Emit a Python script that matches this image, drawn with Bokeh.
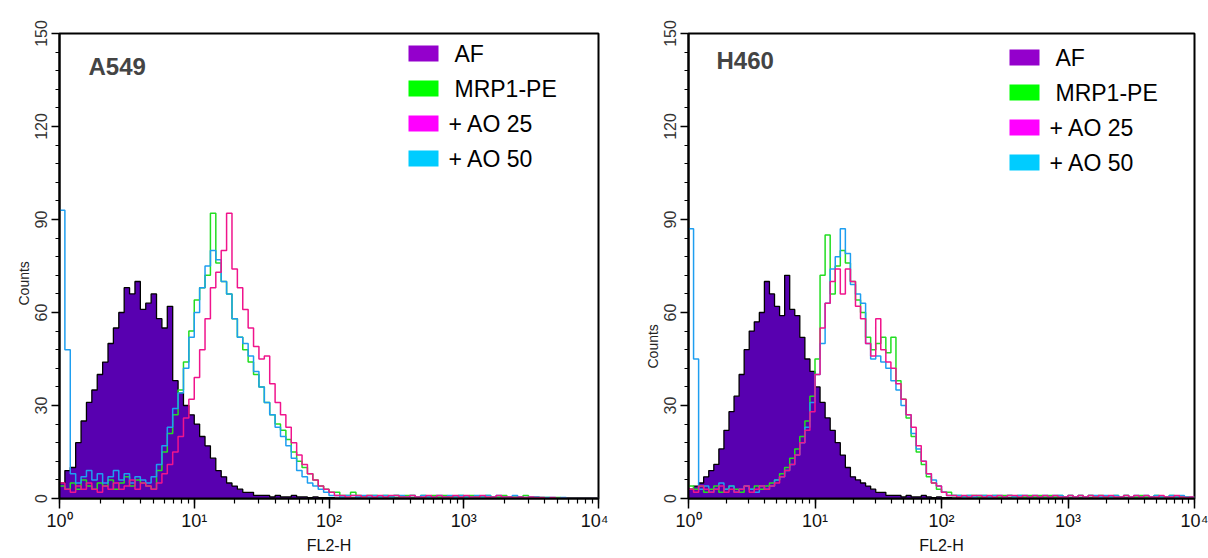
import math
from bokeh.plotting import figure
from bokeh.models import (Range1d, SingleIntervalTicker, LogTicker, Label,
                          BoxAnnotation, Title)
from bokeh.layouts import row
from bokeh.embed import file_html
from bokeh.resources import INLINE

# ---------------- data ----------------
series_names = ["AF", "MRP1-PE", "+ AO 25", "+ AO 50"]
legend_colors = ["#9400CC", "#00FF00", "#FF00FF", "#00CCFF"]
af_fill = "#5800B0"
line_colors = ["#22DD22", "#F0148C", "#1E9EF0"]   # MRP1-PE, +AO 25, +AO 50
panel_titles = ["A549", "H460"]
x_tick_values = [1, 10, 100, 1000, 10000]
x_tick_labels = ["10⁰", "10¹", "10²", "10³", "10⁴"]
y_major_step = 30
channels_per_decade = 25          # channel k covers 10**(k/25) .. 10**((k+1)/25)

a549_af = [5, 9, 10, 18, 25, 31, 35, 40, 44, 50,
           55, 60, 68, 66, 70, 61, 63, 66, 58, 55,
           62, 38, 34, 30, 27, 24, 20, 17, 13, 9,
           7, 5, 4, 3, 2, 2, 1, 1, 1, 0.5,
           1, 0.5, 0.5, 1, 0.5, 0.5, 0.3, 0.5, 0.3, 0.3,
           0.3, 0, 0.3, 0, 0, 0.3, 0, 0, 0, 0,
           0, 0, 0, 0, 0, 0, 0, 0, 0, 0,
           0, 0, 0, 0, 0, 0, 0, 0, 0, 0,
           0, 0, 0, 0, 0, 0, 0, 0, 0, 0,
           0, 0, 0, 0, 0, 0, 0, 0, 0, 0]
a549_mrp1 = [4, 3, 5, 3, 6, 4, 3, 5, 4, 6,
             3, 5, 7, 4, 6, 5, 4, 3, 9, 15,
             21, 27, 35, 44, 54, 64, 68, 72, 92, 76,
             70, 66, 58, 52, 48, 44, 40, 36, 31, 27,
             24, 22, 19, 15, 12, 10, 8, 6, 4, 3,
             2, 2, 1, 1, 2, 1, 0.5, 1, 1, 0.5,
             1, 0.5, 1, 0.5, 1, 1, 0.5, 1, 0.5, 1,
             0.5, 1, 0.5, 0.5, 1, 0.5, 1, 0.5, 0.5, 1,
             0.5, 0.5, 1, 0.5, 0.5, 0.5, 1, 0.3, 0.5, 0.3,
             0.3, 0, 0.3, 0, 0, 0, 0, 0, 0, 0]
a549_ao25 = [5, 3, 2, 4, 3, 5, 3, 2, 4, 3,
             5, 3, 4, 6, 3, 5, 4, 3, 5, 8,
             11, 15, 20, 26, 32, 39, 48, 58, 68, 73,
             80, 92, 74, 68, 61, 55, 49, 45, 46, 37,
             31, 27, 23, 18, 14, 11, 8, 6, 4, 3,
             2, 1, 1, 0.5, 1, 1, 0.5, 1, 0.5, 1,
             0.5, 1, 1, 0.5, 0.5, 1, 0.5, 0.5, 1, 0.5,
             1, 0.5, 0.5, 1, 0.5, 1, 0.5, 0.5, 1, 0.5,
             0.5, 1, 0.5, 0.5, 0.3, 0.5, 0.3, 0.5, 0.3, 0.3,
             0, 0.3, 0, 0, 0, 0, 0, 0, 0, 0]
a549_ao50 = [93, 48, 8, 5, 7, 9, 6, 8, 5, 7,
             9, 6, 8, 5, 7, 6, 5, 7, 11, 17,
             23, 29, 34, 42, 52, 60, 68, 75, 80, 77,
             70, 66, 58, 52, 50, 46, 41, 36, 31, 27,
             23, 20, 17, 13, 9, 7, 5, 4, 3, 2,
             1, 1, 0.5, 1, 1, 0.5, 1, 0.5, 1, 0.5,
             1, 0.5, 1, 1, 0.5, 1, 0.5, 1, 0.5, 0.5,
             1, 0.5, 1, 0.5, 1, 0.5, 0.5, 1, 0.5, 1,
             0.5, 1, 0.5, 0.5, 1, 0.5, 0.3, 0.5, 0.5, 0.3,
             0.3, 0.3, 0, 0.3, 0, 0, 0, 0, 0, 0]

h460_af = [3, 4, 5, 7, 9, 11, 16, 22, 28, 33,
           40, 48, 54, 57, 60, 70, 66, 62, 59, 72,
           61, 59, 52, 45, 41, 36, 31, 26, 22, 18,
           14, 10, 7, 6, 5, 4, 3, 2, 2, 1,
           1, 1, 0.5, 1, 0.5, 0.5, 1, 0.5, 0.3, 0.5,
           0.3, 0.3, 0, 0.3, 0, 0, 0, 0, 0, 0,
           0, 0, 0, 0, 0, 0, 0, 0, 0, 0,
           0, 0, 0, 0, 0, 0, 0, 0, 0, 0,
           0, 0, 0, 0, 0, 0, 0, 0, 0, 0,
           0, 0, 0, 0, 0, 0, 0, 0, 0, 0]
h460_mrp1 = [4, 3, 4, 2, 3, 4, 2, 3, 4, 3,
             2, 4, 3, 4, 3, 4, 5, 6, 8, 10,
             13, 16, 20, 25, 33, 45, 72, 85, 66, 75,
             80, 76, 70, 64, 60, 52, 48, 50, 52, 47,
             52, 38, 32, 26, 20, 15, 11, 7, 5, 3,
             2, 2, 1, 1, 0.5, 1, 1, 0.5, 1, 0.5,
             1, 0.5, 1, 1, 0.5, 1, 0.5, 1, 0.5, 1,
             0.5, 1, 0.5, 1, 0.5, 1, 0.5, 1, 0.5, 1,
             0.5, 1, 0.5, 0.5, 1, 0.5, 1, 0.5, 0.5, 1,
             0.5, 0.5, 1, 0.5, 0.5, 1, 0.5, 0.5, 0.5, 0.3]
h460_ao25 = [3, 2, 4, 3, 2, 3, 4, 2, 3, 2,
             3, 4, 2, 3, 4, 3, 4, 5, 7, 9,
             11, 14, 18, 22, 28, 40, 55, 63, 70, 74,
             66, 74, 70, 62, 58, 50, 46, 58, 48, 44,
             42, 37, 32, 27, 23, 17, 12, 8, 5, 4,
             2, 1, 1, 0.5, 1, 0.5, 1, 1, 0.5, 1,
             0.5, 1, 0.5, 1, 1, 0.5, 1, 0.5, 1, 0.5,
             1, 0.5, 1, 0.5, 0.5, 1, 0.5, 1, 0.5, 1,
             0.5, 1, 0.5, 1, 0.5, 0.5, 1, 0.5, 1, 0.5,
             1, 0.5, 0.5, 1, 0.5, 0.5, 1, 0.5, 0.3, 0.5]
h460_ao50 = [87, 45, 3, 4, 2, 3, 5, 3, 4, 2,
             3, 4, 3, 2, 4, 3, 4, 6, 7, 9,
             11, 14, 18, 23, 31, 40, 50, 63, 74, 78,
             87, 79, 69, 66, 63, 50, 45, 46, 44, 42,
             38, 35, 30, 27, 21, 16, 12, 8, 6, 4,
             2, 1, 1, 1, 0.5, 1, 0.5, 1, 1, 0.5,
             1, 1, 0.5, 1, 0.5, 1, 1, 0.5, 1, 0.5,
             1, 0.5, 1, 1, 0.5, 1, 0.5, 1, 0.5, 1,
             1, 0.5, 1, 0.5, 1, 0.5, 1, 0.5, 1, 0.5,
             1, 0.5, 1, 0.5, 0.5, 1, 0.5, 1, 0.5, 0.5]

FONT = "Liberation Sans"


def channel_edges(n):
    return [10 ** (k / channels_per_decade) for k in range(n + 1)]


def step_xy(values):
    edges = channel_edges(len(values))
    xs, ys = [], []
    for k, v in enumerate(values):
        xs += [edges[k], edges[k + 1]]
        ys += [v, v]
    return xs, ys


def make_panel(title, af, mrp1, ao25, ao50, width, bl, br, bt, bb,
               title_pos, counts_offset, legend_x, legend_text_x, legend_row_y):
    p = figure(width=width, height=558, x_axis_type="log",
               x_range=Range1d(1, 10000), y_range=Range1d(0, 150),
               min_border_left=bl, min_border_right=br,
               min_border_top=bt, min_border_bottom=bb,
               output_backend="svg", toolbar_location=None)
    p.xgrid.visible = False
    p.ygrid.visible = False
    p.outline_line_color = "black"
    p.outline_line_width = 2
    p.background_fill_color = "white"
    p.border_fill_color = "white"

    # AF filled histogram (one continuous area + black outline)
    xs, ys = step_xy(af)
    p.varea(x=xs, y1=[0] * len(ys), y2=ys, fill_color=af_fill)
    p.line(xs, ys, line_color="black", line_width=1.3)
    for vals, col in zip([mrp1, ao50, ao25], [line_colors[0], line_colors[2], line_colors[1]]):
        xs, ys = step_xy(vals)
        p.line(xs, ys, line_color=col, line_width=1.5)

    # axes
    xa = p.xaxis[0]
    xa.ticker = LogTicker(num_minor_ticks=10, desired_num_ticks=5)
    xa.major_label_overrides = {v: t for v, t in zip(x_tick_values, x_tick_labels)}
    xa.major_label_text_font = FONT
    xa.major_label_text_font_size = "18px"
    xa.major_label_text_color = "#111111"
    xa.major_label_standoff = 2
    xa.axis_label = "FL2-H"
    xa.axis_label_text_font = FONT
    xa.axis_label_text_font_size = "16px"
    xa.axis_label_text_font_style = "normal"
    xa.axis_label_text_color = "#111111"
    xa.axis_label_standoff = 3
    ya = p.yaxis[0]
    ya.ticker = SingleIntervalTicker(interval=y_major_step, num_minor_ticks=5)
    ya.major_label_orientation = "vertical"
    ya.major_label_text_font = FONT
    ya.major_label_text_font_size = "16px"
    ya.major_label_text_color = "#333333"
    ya.major_label_standoff = 5
    for ax in (xa, ya):
        ax.axis_line_width = 2
        ax.axis_line_color = "black"
        ax.major_tick_line_color = "black"
        ax.minor_tick_line_color = "black"
        ax.major_tick_line_width = 1.5
        ax.minor_tick_line_width = 1.2
        ax.major_tick_in = 0
        ax.minor_tick_in = 0
    xa.major_tick_out = 10
    xa.minor_tick_out = 5
    ya.major_tick_out = 8
    ya.minor_tick_out = 4

    p.add_layout(Title(text="Counts", align="left", offset=counts_offset,
                       text_font=FONT, text_font_size="14px", text_font_style="normal",
                       text_color="#222222", standoff=0), "left")

    p.add_layout(Label(x=title_pos[0], y=title_pos[1], x_units="screen", y_units="screen",
                       text=title, text_font=FONT, text_font_size="24px",
                       text_font_style="bold", text_baseline="middle", text_align="left"))

    # legend: colour squares + labels
    for i, (name, col) in enumerate(zip(series_names, legend_colors)):
        cy = legend_row_y[i]
        p.add_layout(BoxAnnotation(left=legend_x, right=legend_x + 30,
                                   bottom=cy - 8, top=cy + 8,
                                   left_units="screen", right_units="screen",
                                   bottom_units="screen", top_units="screen",
                                   fill_color=col, fill_alpha=1, line_color=None,
                                   level="overlay"))
        tx = legend_text_x - (6 if name.startswith("+") else 0)
        p.add_layout(Label(x=tx, y=cy, x_units="screen", y_units="screen",
                           text=name, text_font=FONT, text_font_size="23px",
                           text_baseline="middle", text_align="left", text_color="black"))
    return p


p1 = make_panel(panel_titles[0], a549_af, a549_mrp1, a549_ao25, a549_ao50,
                width=608, bl=59, br=10, bt=33, bb=56,
                title_pos=(29, 432), counts_offset=193,
                legend_x=349, legend_text_x=395, legend_row_y=[445, 410, 375, 340])
p2 = make_panel(panel_titles[1], h460_af, h460_mrp1, h460_ao25, h460_ao50,
                width=600, bl=80, br=14, bt=28, bb=60,
                title_pos=(28, 438), counts_offset=130,
                legend_x=321, legend_text_x=367, legend_row_y=[441, 406, 371, 336])

layout = row(p1, p2)
open("out.html", "w").write(file_html(layout, INLINE))
